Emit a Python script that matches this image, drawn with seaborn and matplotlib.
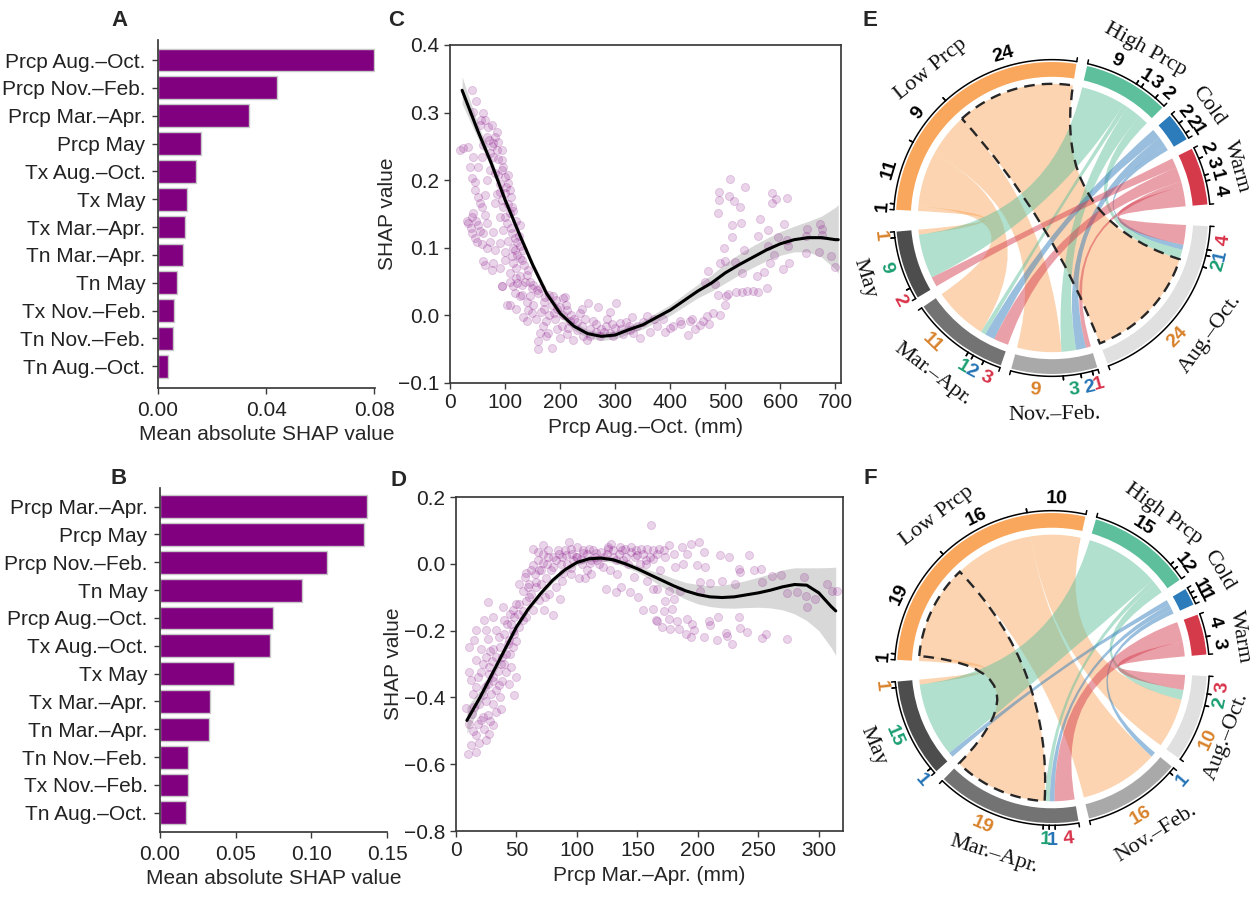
import numpy as np
import matplotlib
matplotlib.use('Agg')
import matplotlib.pyplot as plt
from matplotlib.path import Path
from matplotlib.patches import PathPatch, Wedge
import seaborn as sns

sns.set_theme(style='ticks')
plt.rcParams['font.family'] = ['Liberation Sans', 'DejaVu Sans']
plt.rcParams['font.size'] = 15
plt.rcParams['axes.labelsize'] = 15
plt.rcParams['xtick.labelsize'] = 15
plt.rcParams['ytick.labelsize'] = 15
plt.rcParams['axes.edgecolor'] = '#3a3a3a'
plt.rcParams['xtick.color'] = '#3a3a3a'
plt.rcParams['ytick.color'] = '#3a3a3a'
plt.rcParams['xtick.labelcolor'] = '#222222'
plt.rcParams['ytick.labelcolor'] = '#222222'

# ---- panel A / B: mean |SHAP| per feature
features_a = ['Prcp Aug.–Oct.', 'Prcp Nov.–Feb.', 'Prcp Mar.–Apr.', 'Prcp May',
              'Tx Aug.–Oct.', 'Tx May', 'Tx Mar.–Apr.', 'Tn Mar.–Apr.', 'Tn May',
              'Tx Nov.–Feb.', 'Tn Nov.–Feb.', 'Tn Aug.–Oct.']
shap_a = [0.0800, 0.0440, 0.0338, 0.0160, 0.0142, 0.0106, 0.0101, 0.0091,
          0.0072, 0.0060, 0.0057, 0.0037]

features_b = ['Prcp Mar.–Apr.', 'Prcp May', 'Prcp Nov.–Feb.', 'Tn May',
              'Prcp Aug.–Oct.', 'Tx Aug.–Oct.', 'Tx May', 'Tx Mar.–Apr.',
              'Tn Mar.–Apr.', 'Tn Nov.–Feb.', 'Tx Nov.–Feb.', 'Tn Aug.–Oct.']
shap_b = [0.1370, 0.1348, 0.1104, 0.0938, 0.0749, 0.0729, 0.0490, 0.0330,
          0.0324, 0.0182, 0.0182, 0.0171]

# ---- panel C: dependence of Prcp Aug.-Oct.
points_c = [
    (40.5, 0.333), (47.2, 0.317), (41.1, 0.301), (60.5, 0.300), (55.7, 0.289), (63.5, 0.289),
    (54.4, 0.282), (69.6, 0.279), (75.6, 0.282), (24.2, 0.247), (33.3, 0.249), (18.1, 0.245),
    (60.5, 0.252), (75.6, 0.250), (87.7, 0.257), (93.8, 0.245), (66.5, 0.264), (81.7, 0.264),
    (84.7, 0.272), (42.3, 0.235), (57.5, 0.235), (78.6, 0.235), (93.8, 0.230), (36.3, 0.220),
    (51.4, 0.220), (72.6, 0.215), (96.8, 0.220), (87.7, 0.208), (105.9, 0.208), (39.3, 0.203),
    (45.4, 0.198), (66.5, 0.200), (105.9, 0.196), (90.7, 0.183), (99.8, 0.181), (108.9, 0.186),
    (63.5, 0.178), (54.4, 0.166), (81.7, 0.166), (96.8, 0.161), (111.9, 0.161), (42.3, 0.151),
    (63.5, 0.149), (90.7, 0.146), (108.9, 0.151), (33.3, 0.136), (51.4, 0.134), (66.5, 0.136),
    (102.8, 0.136), (127.0, 0.133), (39.3, 0.122), (60.5, 0.122), (78.6, 0.124), (96.8, 0.127),
    (111.9, 0.122), (48.4, 0.108), (72.6, 0.109), (90.7, 0.107), (121.0, 0.109), (127.0, 0.102),
    (66.5, 0.099), (81.7, 0.097), (99.8, 0.094), (118.0, 0.097), (133.1, 0.097), (60.5, 0.080),
    (78.6, 0.077), (99.8, 0.082), (114.9, 0.077), (130.1, 0.082), (63.5, 0.075), (75.6, 0.067),
    (90.7, 0.070), (108.9, 0.062), (142.2, 0.067), (93.8, 0.043), (108.9, 0.050), (121.0, 0.048),
    (136.1, 0.050), (148.2, 0.040), (157.3, 0.038), (118.0, 0.033), (130.1, 0.030), (145.2, 0.028),
    (160.3, 0.033), (172.4, 0.027), (187.5, 0.028), (208.7, 0.027),
    (70, 0.260), (78, 0.255), (85, 0.245), (72, 0.240), (88, 0.232), (95, 0.215), (82, 0.210),
    (100, 0.205), (90, 0.195), (102, 0.190), (85, 0.180), (110, 0.175), (95, 0.170), (105, 0.165),
    (115, 0.155), (100, 0.145), (120, 0.140), (110, 0.130), (118, 0.115), (125, 0.118),
    (105, 0.110), (115, 0.100), (122, 0.090), (128, 0.085), (112, 0.088), (135, 0.075),
    (120, 0.070), (140, 0.060), (128, 0.058), (145, 0.050), (150, 0.045), (165, 0.040),
    (45, 0.185), (50, 0.175), (58, 0.160), (48, 0.140), (55, 0.125), (40, 0.145), (30, 0.140),
    (38, 0.130), (45, 0.115), (58, 0.105),
    (109, 0.016), (127, 0.028), (142, 0.008), (157, -0.006), (163, -0.026), (160, -0.038),
    (160, -0.050), (185, -0.048), (175, -0.009), (188, 0.003), (193, 0.023), (206, 0.026),
    (212, 0.008), (203, -0.016), (218, -0.009), (230, -0.021), (236, 0.003), (242, -0.031),
    (251, 0.018), (266, -0.024), (269, 0.013), (284, -0.016), (296, -0.031), (302, 0.018),
    (308, -0.011), (327, -0.021), (345, -0.033), (357, -0.001), (363, -0.024), (375, -0.016),
    (387, -0.006), (399, -0.019), (417, -0.009), (439, -0.006), (454, -0.014), (466, -0.001),
    (478, 0.003), (133, -0.002), (139, -0.009), (148, 0.003), (169, -0.016), (178, -0.026),
    (200, -0.033), (212, -0.028), (224, -0.036), (248, -0.036), (272, -0.031), (290, -0.026),
    (315, -0.028), (333, -0.026), (103, 0.016), (115, 0.043), (94, 0.043), (460, -0.009),
    (436, -0.009), (433, -0.029), (405, -0.016), (120, 0.010), (150, 0.015), (165, 0.005),
    (180, 0.000), (195, -0.020), (215, -0.018), (225, -0.005), (240, -0.015), (255, -0.020),
    (260, -0.008), (280, -0.025), (300, -0.018), (320, -0.010), (340, -0.015), (120, 0.055),
    (130, 0.045), (140, 0.020), (170, 0.010), (185, 0.015), (240, 0.010), (290, 0.005),
    (330, -0.003), (350, -0.010), (370, -0.005), (390, -0.025), (420, -0.012), (445, -0.020),
    (470, -0.012), (490, 0.000), (500, 0.015),
    (170, 0.020), (180, 0.030), (195, 0.010), (210, 0.015), (220, 0.000), (230, -0.010),
    (245, -0.005), (255, -0.030), (265, -0.012), (275, -0.020), (285, -0.005), (295, -0.012),
    (310, -0.020), (325, -0.015), (190, -0.005), (205, 0.000), (200, 0.012), (175, -0.030),
    (509, 0.202), (536, 0.190), (488, 0.183), (488, 0.170), (506, 0.176), (516, 0.169),
    (527, 0.161), (487, 0.151), (585, 0.181), (592, 0.172), (584, 0.166), (612, 0.173),
    (528, 0.136), (512, 0.133), (563, 0.142), (607, 0.135), (512, 0.116), (578, 0.126),
    (560, 0.118), (596, 0.116), (612, 0.112), (497, 0.100), (534, 0.097), (577, 0.102),
    (614, 0.103), (649, 0.128), (672, 0.135), (675, 0.128), (646, 0.117), (675, 0.119),
    (646, 0.092), (670, 0.094), (691, 0.088), (699, 0.072), (589, 0.089), (490, 0.078),
    (499, 0.081), (517, 0.079), (581, 0.078), (615, 0.077), (605, 0.068), (469, 0.066),
    (531, 0.062), (558, 0.058), (570, 0.064), (481, 0.047), (463, 0.050), (575, 0.041),
    (487, 0.030), (505, 0.032), (530, 0.035), (540, 0.036), (550, 0.036), (560, 0.035),
    (501, 0.028), (520, 0.034),
]
fit_c_x = [22, 50, 75, 100, 125, 150, 175, 200, 225, 250, 275, 300, 325, 350, 375,
           400, 425, 450, 475, 500, 525, 550, 575, 600, 625, 650, 675, 700, 705]
fit_c_y = [0.333, 0.274, 0.225, 0.171, 0.122, 0.075, 0.033, 0.003, -0.016, -0.027, -0.031,
           -0.029, -0.021, -0.014, -0.003, 0.008, 0.022, 0.036, 0.048, 0.063, 0.075, 0.086,
           0.097, 0.106, 0.112, 0.115, 0.115, 0.112, 0.112]
ci_c_lo = [0.313, 0.263, 0.217, 0.164, 0.116, 0.069, 0.027, -0.003, -0.022, -0.033, -0.037,
           -0.035, -0.027, -0.020, -0.010, 0.000, 0.013, 0.026, 0.036, 0.048, 0.060, 0.071,
           0.081, 0.089, 0.094, 0.094, 0.086, 0.068, 0.062]
ci_c_hi = [0.353, 0.285, 0.233, 0.178, 0.128, 0.081, 0.039, 0.009, -0.010, -0.021, -0.025,
           -0.023, -0.015, -0.008, 0.004, 0.016, 0.031, 0.046, 0.060, 0.077, 0.091, 0.103,
           0.114, 0.124, 0.132, 0.139, 0.147, 0.160, 0.164]

# ---- panel D: dependence of Prcp Mar.-Apr.
points_d = [
    (9.7, -0.568), (16.6, -0.563), (12.4, -0.543), (19.3, -0.538), (24.8, -0.528), (16.6, -0.513),
    (27.6, -0.509), (23.5, -0.494), (30.4, -0.484), (11.0, -0.479), (20.7, -0.469), (26.2, -0.454),
    (33.1, -0.444), (8.3, -0.433), (15.2, -0.429), (37.3, -0.434), (48.3, -0.394), (22.0, -0.394),
    (29.0, -0.389), (33.1, -0.379), (16.6, -0.369), (26.2, -0.359), (35.9, -0.364), (12.4, -0.349),
    (30.4, -0.339), (49.7, -0.339), (20.7, -0.324), (11.0, -0.324), (41.4, -0.324), (27.6, -0.309),
    (37.3, -0.299), (45.5, -0.309), (16.6, -0.289), (24.8, -0.279), (33.1, -0.279), (41.4, -0.269),
    (11.0, -0.249), (20.7, -0.254), (30.4, -0.254), (46.9, -0.249), (15.2, -0.229), (26.2, -0.224),
    (35.9, -0.219), (44.2, -0.229), (16.6, -0.199), (24.8, -0.199), (33.1, -0.199), (48.3, -0.209),
    (23.5, -0.169), (30.4, -0.159), (40.0, -0.169), (45.5, -0.179), (26.2, -0.114), (38.6, -0.129),
    (46.9, -0.139), (52.4, -0.119), (51.0, -0.149), (55.2, -0.169), (48.3, -0.159), (58.0, -0.159),
    (63.5, -0.139), (52.4, -0.059), (58.0, -0.029), (59.3, -0.069), (66.2, -0.054), (63.5, -0.004),
    (69.0, -0.019), (71.8, 0.001), (74.5, -0.044), (78.7, -0.019), (82.8, 0.011), (63.5, 0.045),
    (71.8, 0.055), (67.6, 0.035), (75.9, 0.021), (82.8, -0.069), (77.3, -0.089), (85.6, -0.104),
    (80.0, -0.154), (73.1, -0.139), (69.0, -0.109), (88.3, -0.029), (93.8, 0.065), (91.1, 0.025),
    (95.2, -0.014), (99.4, 0.021), (104.9, 0.031), (102.0, -0.044), (106.3, -0.044), (110.4, 0.001),
    (115.9, 0.031), (121.4, -0.009), (125.6, 0.051), (124.2, -0.074), (132.5, -0.084), (136.6, -0.069),
    (129.7, 0.021), (135.2, 0.051), (140.8, 0.021), (143.5, -0.084), (149.0, 0.041), (150.4, -0.099),
    (154.6, -0.139), (157.3, 0.011), (162.8, 0.041), (165.6, -0.169), (161.5, 0.115), (162.8, -0.074),
    (14, -0.500), (18, -0.480), (22, -0.460), (28, -0.470), (13, -0.450), (19, -0.420),
    (25, -0.410), (31, -0.420), (36, -0.400), (14, -0.390), (24, -0.370), (31, -0.350),
    (38, -0.350), (44, -0.360), (18, -0.340), (27, -0.330), (35, -0.320), (40, -0.300),
    (22, -0.300), (30, -0.290), (38, -0.280), (45, -0.270), (28, -0.260), (36, -0.250),
    (43, -0.240), (50, -0.230), (40, -0.210), (47, -0.200), (52, -0.190), (42, -0.180),
    (55, -0.140), (58, -0.110), (62, -0.090), (57, -0.040), (62, -0.020), (68, 0.010),
    (72, 0.030), (76, 0.040), (80, -0.010), (84, 0.040), (88, 0.020), (92, 0.000),
    (96, 0.030), (100, 0.020), (104, 0.000), (108, 0.030), (113, 0.040), (117, 0.010),
    (122, 0.020), (126, 0.045), (132, 0.010), (137, 0.040), (142, 0.000), (148, 0.020),
    (153, 0.045), (157, 0.000), (112, -0.030), (127, -0.020), (95, -0.030), (70, -0.060),
    (74, -0.100),
    (166, 0.030), (171.7, 0.040), (173, 0.020), (163, 0.015), (169, -0.020), (175.8, 0.055),
    (180, 0.030), (181, -0.010), (187, 0.050), (194, 0.060), (200.6, 0.065), (204.8, 0.035),
    (191, 0.030), (188, 0.000), (199, -0.005), (206, -0.010), (218.6, 0.025), (226, 0.020),
    (242, 0.025), (234, -0.015), (235, -0.025), (246, -0.018), (252, -0.015), (261, -0.038),
    (269, -0.035), (202, -0.055), (210, -0.058), (220, -0.050), (231, -0.060), (253, -0.055),
    (287.6, -0.040), (307, -0.060), (311, -0.080), (315, -0.080), (274, -0.088), (282, -0.085),
    (289, -0.095), (297, -0.105), (290, -0.130), (202, -0.080), (185, -0.080), (175.8, -0.080),
    (166, -0.075), (173, -0.110), (180, -0.105), (163, -0.135), (172, -0.140), (179, -0.135),
    (166, -0.170), (176, -0.164), (183, -0.170), (191, -0.164), (195, -0.180), (170, -0.190),
    (177, -0.194), (184, -0.194), (196.5, -0.199), (190, -0.209), (194, -0.219), (204.8, -0.219),
    (210, -0.184), (217, -0.159), (223, -0.207), (224, -0.217), (216, -0.227), (228, -0.239),
    (234, -0.159), (234.6, -0.191), (240.7, -0.204), (253, -0.222), (256, -0.211), (274, -0.224),
    (209, -0.170),
    (105, 0.040), (110, 0.045), (115, 0.020), (120, 0.035), (125, 0.030), (130, 0.040),
    (135, 0.030), (140, 0.045), (145, 0.035), (150, 0.025), (155, 0.030), (160, 0.020),
    (145, 0.050), (128, 0.060), (100, 0.050), (95, 0.045), (90, 0.040), (85, 0.030),
    (80, 0.020), (75, 0.000), (70, -0.020), (65, -0.030), (60, -0.060), (55, -0.080),
    (50, -0.120), (45, -0.150), (60, -0.100), (66, -0.070), (112, 0.010), (118, 0.000),
    (138, 0.010), (152, 0.000), (158, 0.045), (168, 0.045), (87, 0.000), (97, 0.010),
    (103, 0.015), (108, -0.020), (133, -0.030), (147, -0.040), (158, -0.050), (88, -0.050),
]
fit_d_x = [9, 20, 30, 40, 50, 60, 70, 80, 90, 100, 110, 120, 130, 140, 150, 160, 170, 180,
           190, 200, 210, 220, 230, 240, 250, 260, 270, 280, 290, 300, 310, 314]
fit_d_y = [-0.469, -0.399, -0.329, -0.259, -0.189, -0.134, -0.089, -0.049, -0.018, 0.004,
           0.015, 0.017, 0.012, 0.000, -0.015, -0.032, -0.049, -0.066, -0.081, -0.092, -0.099,
           -0.101, -0.099, -0.093, -0.087, -0.079, -0.069, -0.062, -0.064, -0.087, -0.127, -0.141]
ci_d_lo = [-0.509, -0.421, -0.344, -0.271, -0.199, -0.143, -0.097, -0.057, -0.026, -0.004,
           0.007, 0.009, 0.004, -0.009, -0.025, -0.045, -0.068, -0.088, -0.106, -0.120, -0.128,
           -0.132, -0.133, -0.131, -0.130, -0.132, -0.138, -0.150, -0.170, -0.200, -0.250, -0.274]
ci_d_hi = [-0.429, -0.377, -0.314, -0.247, -0.179, -0.125, -0.081, -0.041, -0.010, 0.012,
           0.023, 0.025, 0.020, 0.009, -0.005, -0.019, -0.030, -0.044, -0.056, -0.062, -0.066,
           -0.064, -0.058, -0.050, -0.040, -0.030, -0.018, -0.012, -0.012, -0.012, -0.011, -0.010]

# ---- panels E / F: chord diagrams (rows: top groups, cols: seasons clockwise)
top_names = ['Low Prcp', 'High Prcp', 'Cold', 'Warm']
season_names = ['Aug.–Oct.', 'Nov.–Feb.', 'Mar.–Apr.', 'May']
low_e = [24, 9, 11, 1]
high_e = [2, 3, 1, 9]
cold_e = [1, 2, 2, 0]
warm_e = [4, 1, 3, 2]
low_f = [10, 16, 19, 1]
high_f = [2, 0, 1, 15]
cold_f = [0, 1, 1, 1]
warm_f = [3, 0, 4, 0]

top_colors = ['#f9a75c', '#5dbf9c', '#2c7bba', '#d53a4b']
label_colors = ['#d9822b', '#1a9e70', '#2473b5', '#d8334a']
season_colors = ['#e0e0e0', '#a9a9a9', '#737373', '#4d4d4d']

PURPLE = '#800080'


def arc_points(r, d1, d2, n=60):
    t = np.deg2rad(np.linspace(d1, d2, n))
    return np.column_stack([r * np.cos(t), r * np.sin(t)])


def ribbon(a1, a2, b1, b2, r=0.86):
    A = arc_points(r, a1, a2)
    B = arc_points(r, b1, b2)
    verts = list(A) + [(0, 0), tuple(B[0])] + list(B[1:]) + [(0, 0), tuple(A[0]), tuple(A[0])]
    codes = ([Path.MOVETO] + [Path.LINETO] * (len(A) - 1) + [Path.CURVE3] * 2 +
             [Path.LINETO] * (len(B) - 1) + [Path.CURVE3] * 2 + [Path.CLOSEPOLY])
    return Path(verts, codes)


def tangent_rot(deg):
    return deg - 90 if np.sin(np.deg2rad(deg)) >= 0 else deg + 90


def label(ax, r, deg, txt, **kw):
    t = np.deg2rad(deg)
    ax.text(r * np.cos(t), r * np.sin(t), txt, rotation=tangent_rot(deg),
            rotation_mode='anchor', ha='center', va='center', **kw)


def chord(ax, rows, highlight, name_pos=None):
    # name_pos: optional per-name (angle shift, radius) placement tweaks
    name_pos = name_pos or {}
    m = np.array(rows)
    unit = (360 - 2 * 8 - 6 * 4) / (2 * m.sum())
    totals = list(m.sum(1)) + list(m.sum(0))
    starts = []
    a = 177.0
    for k, tot in enumerate(totals):
        starts.append(a)
        a -= tot * unit + (8 if k == 3 else 4)
    seg = {}
    for i in range(4):
        a = starts[i]
        for j in [3, 2, 1, 0]:
            if m[i, j]:
                seg['t', i, j] = (a, a - m[i, j] * unit)
                a -= m[i, j] * unit
    for j in range(4):
        a = starts[4 + j]
        for i in [3, 2, 1, 0]:
            if m[i, j]:
                seg['b', i, j] = (a, a - m[i, j] * unit)
                a -= m[i, j] * unit

    for i in range(4):
        for j in range(4):
            if m[i, j]:
                p = ribbon(*seg['t', i, j], *seg['b', i, j])
                ax.add_patch(PathPatch(p, fc=top_colors[i], alpha=0.48, lw=0))
    hp = ribbon(*seg['t', highlight[0], highlight[1]], *seg['b', highlight[0], highlight[1]])
    ax.add_patch(PathPatch(hp, fill=False, ec='#262626', lw=1.7, ls=(0, (4.5, 3))))

    colors = top_colors + season_colors
    names = top_names + season_names
    for k in range(8):
        s, e = starts[k], starts[k] - totals[k] * unit
        ax.add_patch(Wedge((0, 0), 1.0, e, s, width=0.095, fc=colors[k], lw=0))
        xy = arc_points(1.015, s, e)
        ax.plot(xy[:, 0], xy[:, 1], color='black', lw=1.1)
        shift, rad = name_pos.get(names[k], (0, 1.23 if k < 4 else 1.26))
        label(ax, rad, (s + e) / 2 + shift, names[k],
              family=['Liberation Serif', 'DejaVu Serif'], fontsize=16, color='#111111')

    for (side, i, j), (s, e) in seg.items():
        for b in (s, e):
            t = np.deg2rad(b)
            ax.plot([1.015 * np.cos(t), 1.04 * np.cos(t)],
                    [1.015 * np.sin(t), 1.04 * np.sin(t)], color='black', lw=1.1)
        if side == 't':
            label(ax, 1.09, (s + e) / 2, str(m[i, j]), fontsize=14,
                  fontweight='bold', color='black')
        else:
            label(ax, 1.11, (s + e) / 2, str(m[i, j]), fontsize=14,
                  fontweight='bold', color=label_colors[i])
    ax.axis('off')


def bar_panel(ax, values, names, xmax, ticks, ticklabels, ylim):
    sns.barplot(x=values, y=names, orient='h', color=PURPLE, saturation=1,
                edgecolor='#c8c8c8', linewidth=1.0, width=0.82, ax=ax)
    ax.set_xlim(0, xmax)
    ax.set_ylim(*ylim)
    ax.set_xticks(ticks)
    ax.set_xticklabels(ticklabels)
    ax.set_xlabel('Mean absolute SHAP value')
    ax.set_ylabel('')
    ax.tick_params(length=4, width=1, pad=5)
    sns.despine(ax=ax)


def dependence_panel(ax, pts, fx, fy, lo, hi, xlim, ylim, xticks, yticks, xlabel):
    px, py = zip(*pts)
    ax.fill_between(fx, lo, hi, color='#d4d4d4', alpha=0.9, lw=0, zorder=1)
    sns.scatterplot(x=list(px), y=list(py), color=PURPLE, alpha=0.17, s=34,
                    edgecolor=PURPLE, linewidth=0.7, ax=ax, zorder=2)
    sns.lineplot(x=fx, y=fy, color='black', lw=2.2, ax=ax, zorder=3)
    ax.set_xlim(*xlim)
    ax.set_ylim(*ylim)
    ax.set_xticks(xticks)
    ax.set_yticks(yticks)
    ax.set_xlabel(xlabel)
    ax.set_ylabel('SHAP value', labelpad=1)
    ax.tick_params(length=4, width=1)


W, H = 1256, 897
fig = plt.figure(figsize=(W / 100, H / 100), dpi=100)


def px_axes(l, t, r, b):
    return fig.add_axes([l / W, 1 - b / H, (r - l) / W, (b - t) / H])


ax_a = px_axes(158, 40, 375, 388)
bar_panel(ax_a, shap_a, features_a, 0.0802, [0, 0.04, 0.08], ['0.00', '0.04', '0.08'],
          (11.78, -0.72))
ax_b = px_axes(160, 488, 387, 832)
bar_panel(ax_b, shap_b, features_b, 0.15, [0, 0.05, 0.10, 0.15],
          ['0.00', '0.05', '0.10', '0.15'], (11.69, -0.67))

ax_c = px_axes(450, 45, 841, 383)
dependence_panel(ax_c, points_c, fit_c_x, fit_c_y, ci_c_lo, ci_c_hi, (0, 710), (-0.1, 0.4),
                 range(0, 701, 100), [-0.1, 0.0, 0.1, 0.2, 0.3, 0.4], 'Prcp Aug.–Oct. (mm)')
ax_d = px_axes(456, 497, 843, 831)
dependence_panel(ax_d, points_d, fit_d_x, fit_d_y, ci_d_lo, ci_d_hi, (0, 320), (-0.8, 0.2),
                 range(0, 301, 50), [-0.8, -0.6, -0.4, -0.2, 0.0, 0.2], 'Prcp Mar.–Apr. (mm)')

ax_e = px_axes(860, 0, 1256, 440)
ax_e.set_xlim(-192 / 156, 204 / 156)
ax_e.set_ylim(-222 / 156, 218 / 156)
chord(ax_e, [low_e, high_e, cold_e, warm_e], (0, 0))

ax_f = px_axes(860, 450, 1256, 897)
ax_f.set_xlim(-192 / 155, 204 / 155)
ax_f.set_ylim(-229 / 155, 218 / 155)
chord(ax_f, [low_f, high_f, cold_f, warm_f], (0, 2),
      name_pos={'Cold': (3, 1.25), 'Warm': (-3, 1.23), 'Aug.–Oct.': (-2, 1.21)})

for letter, x, y in [('A', 119, 20), ('C', 396, 20), ('B', 119, 478), ('D', 398, 480),
                     ('E', 870, 20), ('F', 870, 478)]:
    fig.text(x / W, 1 - y / H, letter, fontsize=16, fontweight='bold', ha='center', va='center')

fig.savefig('out.png', dpi=100)
